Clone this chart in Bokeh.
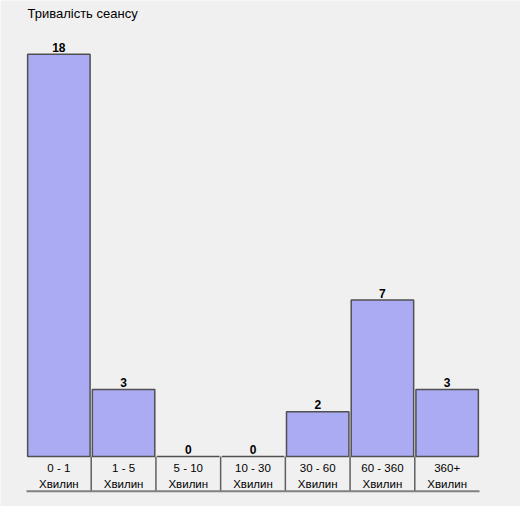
from bokeh.plotting import figure
from bokeh.models import ColumnDataSource, Range1d
from bokeh.core.properties import value
from bokeh.embed import file_html
from bokeh.resources import INLINE

title_text = "Тривалість сеансу"
ranges = ["0 - 1", "1 - 5", "5 - 10", "10 - 30", "30 - 60", "60 - 360", "360+"]
unit_label = "Хвилин"
counts = [18, 3, 0, 0, 2, 7, 3]

BG = "#f0f0f0"
FILL = "#ababf3"
FONT = "Liberation Sans"

n = len(ranges)
fig_w, fig_h = 520, 506
# the frame covers the whole figure; ranges are set from pixel geometry
px_per_unit = 22.35          # vertical pixels per count
px_per_cat = 453 / n         # horizontal pixels per category
left_px = 26                 # pixels left of the first category
below_px = 50                # pixels below the baseline
band_px = 34.7               # depth of the category label band
x_start = -left_px / px_per_cat
x_end = x_start + fig_w / px_per_cat
y_start = -below_px / px_per_unit
y_end = y_start + fig_h / px_per_unit

p = figure(width=fig_w, height=fig_h, output_backend="svg", toolbar_location=None,
           x_range=Range1d(x_start, x_end), y_range=Range1d(y_start, y_end),
           min_border=0)
p.axis.visible = False
p.grid.visible = False
p.outline_line_color = None
p.background_fill_color = BG
p.border_fill_color = BG

# chart title, pinned to the top-left of the plotting area
p.text(x=[0], y=[y_end], text=[title_text], x_offset=1, y_offset=13,
       text_align="left", text_baseline="alphabetic",
       text_font=value(FONT), text_font_size="13px", text_color="#000000")

xs = [i + 0.5 for i in range(n)]
src = ColumnDataSource(dict(x=xs, top=counts, rng=ranges,
                            unit=[unit_label] * n,
                            lbl=[str(c) for c in counts]))

p.vbar(x="x", top="top", bottom=0, width=0.965, source=src,
       fill_color=FILL, line_color="#505050", line_width=1.5)

p.text(x="x", y="top", text="lbl", source=src, y_offset=-7,
       text_align="center", text_baseline="alphabetic",
       text_font=value(FONT), text_font_size="12px", text_font_style="bold",
       text_color="#000000")

p.text(x="x", y=0, text="rng", source=src, y_offset=11,
       text_align="center", text_baseline="alphabetic",
       text_font=value(FONT), text_font_size="11.5px", text_color="#000000")
p.text(x="x", y=0, text="unit", source=src, y_offset=27,
       text_align="center", text_baseline="alphabetic",
       text_font=value(FONT), text_font_size="11.5px", text_color="#000000")

band_bottom = -band_px / px_per_unit
seps = list(range(1, n))
p.segment(x0=seps, y0=[0] * len(seps), x1=seps, y1=[band_bottom] * len(seps),
          line_color="#606060", line_width=1.5)
p.segment(x0=[0], y0=[band_bottom], x1=[n], y1=[band_bottom],
          line_color="#808080", line_width=2)

open("out.html", "w").write(file_html(p, INLINE))
